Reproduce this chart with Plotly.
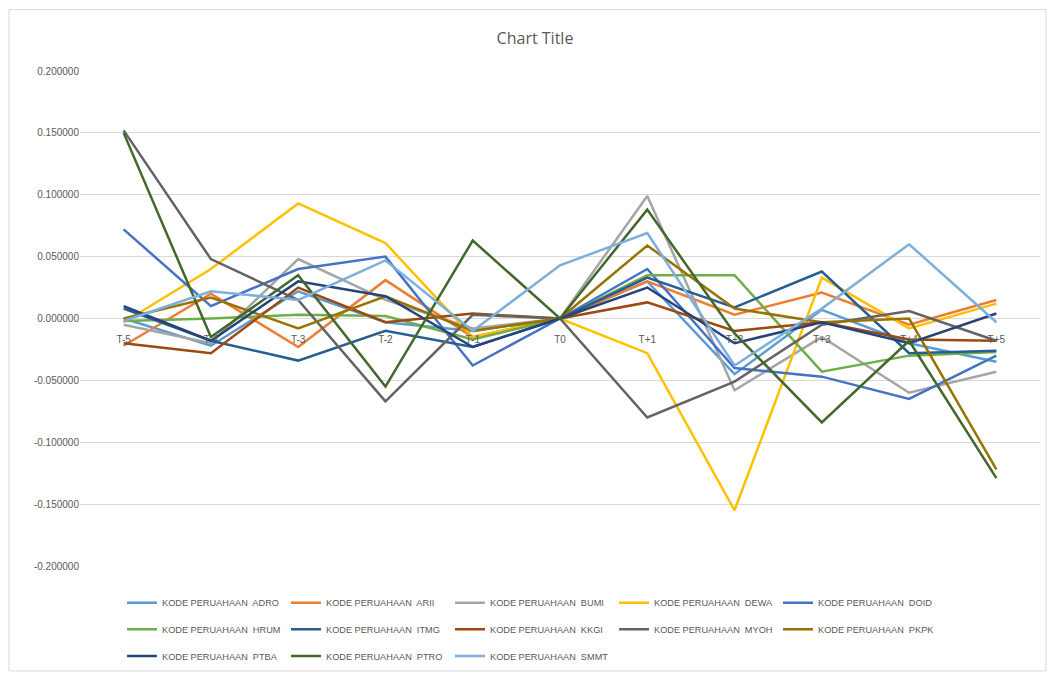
import plotly.graph_objects as go

categories = ["T-5", "T-4", "T-3", "T-2", "T-1", "T0", "T+1", "T+2", "T+3", "T+4", "T+5"]

ADRO = [0.000, -0.022, 0.022, -0.003, -0.010, 0.000, 0.030, -0.045, 0.007, -0.020, -0.035]
ARII = [-0.022, 0.020, -0.023, 0.031, -0.015, 0.000, 0.030, 0.003, 0.021, -0.005, 0.015]
BUMI = [-0.005, -0.020, 0.048, 0.015, -0.008, 0.000, 0.099, -0.058, -0.015, -0.060, -0.043]
DEWA = [-0.003, 0.040, 0.093, 0.061, -0.015, 0.000, -0.028, -0.155, 0.033, -0.008, 0.012]
DOID = [0.072, 0.010, 0.040, 0.050, -0.038, 0.000, 0.040, -0.040, -0.047, -0.065, -0.030]
HRUM = [-0.002, 0.000, 0.003, 0.002, -0.017, 0.000, 0.035, 0.035, -0.043, -0.030, -0.027]
ITMG = [0.008, -0.018, -0.034, -0.010, -0.023, 0.000, 0.033, 0.009, 0.038, -0.028, -0.026]
KKGI = [-0.020, -0.028, 0.025, -0.003, 0.004, 0.000, 0.013, -0.010, -0.003, -0.017, -0.018]
MYOH = [0.152, 0.048, 0.015, -0.067, 0.003, 0.000, -0.080, -0.051, -0.005, 0.006, -0.018]
PKPK = [0.000, 0.017, -0.008, 0.018, -0.010, 0.000, 0.059, 0.008, -0.003, 0.000, -0.122]
PTBA = [0.010, -0.018, 0.030, 0.018, -0.023, 0.000, 0.025, -0.020, -0.003, -0.020, 0.004]
PTRO = [0.150, -0.015, 0.035, -0.055, 0.063, 0.000, 0.088, -0.012, -0.084, -0.018, -0.129]
SMMT = [-0.002, 0.022, 0.015, 0.047, -0.010, 0.043, 0.069, -0.038, 0.008, 0.060, -0.003]

series_names = ["ADRO", "ARII", "BUMI", "DEWA", "DOID", "HRUM", "ITMG",
                "KKGI", "MYOH", "PKPK", "PTBA", "PTRO", "SMMT"]
series_values = [ADRO, ARII, BUMI, DEWA, DOID, HRUM, ITMG,
                 KKGI, MYOH, PKPK, PTBA, PTRO, SMMT]
colors = ["#5B9BD5", "#ED7D31", "#A5A5A5", "#FFC000", "#4472C4", "#70AD47",
          "#255E91", "#9E480E", "#636363", "#997300", "#264478", "#43682B", "#7CAFDD"]
y_ticks = [0.2, 0.15, 0.1, 0.05, 0.0, -0.05, -0.1, -0.15, -0.2]

# page has an 8px body margin; work in page pixel coordinates
OFF = 8
W, H = 1040, 670
ml, mt = 80 - OFF, 71 - OFF
pw, ph = 960, 500
mr = W - ml - pw
mb = H - mt - ph

def px_to_paper_x(px):
    return (px - OFF - ml) / pw

def px_to_paper_y(py):
    return (mt + ph - (py - OFF)) / ph

fig = go.Figure()
legend_ids = ["legend", "legend2", "legend3"]
for i, (name, vals, col) in enumerate(zip(series_names, series_values, colors)):
    fig.add_trace(go.Scatter(
        x=categories, y=vals, mode="lines",
        name="KODE PERUAHAAN  " + name,
        line=dict(color=col, width=2.5),
        legend=legend_ids[i // 5],
    ))

txt = "#595959"
leg_common = dict(orientation="h", xanchor="left", yanchor="middle",
                  font=dict(family="Liberation Sans, Arial", size=9.2, color=txt),
                  entrywidth=119, bgcolor="rgba(0,0,0,0)", traceorder="normal")
row_y = [608, 635, 662]

fig.update_layout(
    width=W, height=H,
    margin=dict(l=ml, r=mr, t=mt, b=mb),
    paper_bgcolor="white", plot_bgcolor="white",
    title=dict(text="Chart Title", x=(535 - OFF) / W, xanchor="center",
               y=1 - (38 - OFF) / H, yanchor="middle",
               font=dict(family="Open Sans, Liberation Sans", size=16, color=txt)),
    xaxis=dict(type="category", range=[-0.5, 10.5], anchor="free", position=0.5,
               showgrid=False, showline=False, ticks="",
               ticklabelstandoff=13,
               tickfont=dict(family="Liberation Sans, Arial", size=10, color=txt)),
    yaxis=dict(range=[-0.2, 0.2], tickvals=y_ticks,
               ticktext=[f"{v:.6f}" for v in y_ticks],
               showgrid=True, gridcolor="#D9D9D9", gridwidth=1,
               zeroline=True, zerolinecolor="#D9D9D9", zerolinewidth=1,
               showline=False, ticks="",
               tickfont=dict(family="Liberation Sans, Arial", size=10, color=txt)),
    legend=dict(**leg_common, x=px_to_paper_x(122), y=px_to_paper_y(row_y[0])),
    legend2=dict(**leg_common, x=px_to_paper_x(122), y=px_to_paper_y(row_y[1])),
    legend3=dict(**leg_common, x=px_to_paper_x(122), y=px_to_paper_y(row_y[2])),
    shapes=[dict(type="rect", xref="paper", yref="paper",
                 x0=px_to_paper_x(9), x1=px_to_paper_x(1046),
                 y0=px_to_paper_y(677), y1=px_to_paper_y(9),
                 line=dict(color="#D9D9D9", width=1), layer="below")],
)

fig.write_html("out.html")
